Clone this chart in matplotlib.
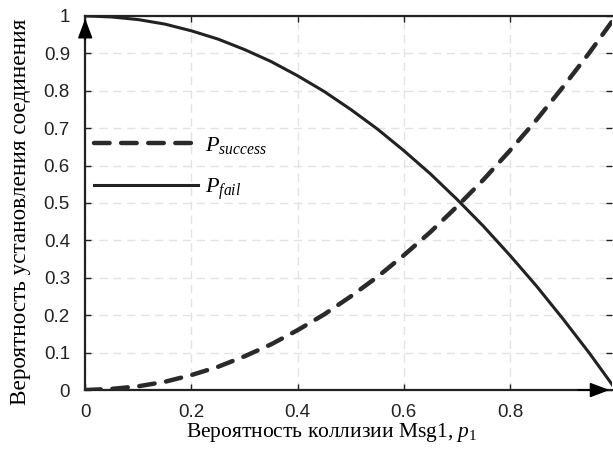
import matplotlib
matplotlib.use("Agg")
import matplotlib.pyplot as plt

# --- Data ---
p1 = [0.0, 0.05, 0.10, 0.15, 0.20, 0.25, 0.30, 0.35, 0.40, 0.45, 0.50,
      0.55, 0.60, 0.65, 0.70, 0.75, 0.80, 0.85, 0.90, 0.95, 1.0]
p_success = [0.0, 0.003, 0.01, 0.022, 0.04, 0.062, 0.09, 0.122, 0.16, 0.202, 0.25,
             0.302, 0.36, 0.422, 0.49, 0.562, 0.64, 0.722, 0.81, 0.902, 1.0]
p_fail = [1.0, 0.997, 0.99, 0.978, 0.96, 0.938, 0.91, 0.878, 0.84, 0.798, 0.75,
          0.698, 0.64, 0.578, 0.51, 0.438, 0.36, 0.278, 0.19, 0.098, 0.0]

x_ticks = [0, 0.2, 0.4, 0.6, 0.8]
y_ticks = [0, 0.1, 0.2, 0.3, 0.4, 0.5, 0.6, 0.7, 0.8, 0.9, 1.0]
x_tick_labels = ["0", "0.2", "0.4", "0.6", "0.8"]
y_tick_labels = ["0", "0.1", "0.2", "0.3", "0.4", "0.5", "0.6", "0.7", "0.8", "0.9", "1"]

x_label = "Вероятность коллизии Msg1, $p_1$"
y_label = "Вероятность установления соединения"
legend_labels = ["$P_{success}$", "$P_{fail}$"]

# --- Style ---
plt.rcParams["mathtext.fontset"] = "custom"
plt.rcParams["mathtext.rm"] = "Liberation Serif"
plt.rcParams["mathtext.it"] = "Liberation Serif:italic"
serif = "Liberation Serif"
sans = "Liberation Sans"
ink = "#222222"

fig = plt.figure(figsize=(6.13, 4.53), dpi=100)
ax = fig.add_axes([0.139, 0.139, 0.860, 0.826])

ax.plot(p1, p_success, color="#2a2a2a", linewidth=3.2, linestyle=(0, (3.5, 2.6)),
        dash_capstyle="round", label=legend_labels[0], zorder=3)
ax.plot(p1, p_fail, color=ink, linewidth=2.2, label=legend_labels[1], zorder=3)

ax.set_xlim(0, 0.993)
ax.set_ylim(0, 1)
ax.set_xticks(x_ticks)
ax.set_xticklabels(x_tick_labels, fontname=sans, fontsize=13.5)
ax.set_yticks(y_ticks)
ax.set_yticklabels(y_tick_labels, fontname=sans, fontsize=13.5)
ax.tick_params(direction="in", length=4, width=1, top=True, right=True, colors=ink)
ax.tick_params(axis="x", pad=10)
ax.tick_params(axis="y", pad=11)

ax.grid(True, color="#e3e3e3", linestyle=(0, (6, 4)), linewidth=1)
ax.set_axisbelow(True)

for side in ["left", "bottom", "top"]:
    ax.spines[side].set_linewidth(1.6)
    ax.spines[side].set_color(ink)
ax.spines["right"].set_visible(False)

# axis arrows
ax.annotate("", xy=(0, 1), xytext=(0, 0.93), xycoords="axes fraction",
            arrowprops=dict(arrowstyle="-|>,head_length=1.2,head_width=0.45",
                            color="black", lw=1.2), zorder=5)
ax.annotate("", xy=(1.0, 0), xytext=(0.93, 0), xycoords="axes fraction",
            arrowprops=dict(arrowstyle="-|>,head_length=1.2,head_width=0.45",
                            color="black", lw=1.2), zorder=5)

ax.set_xlabel(x_label, fontname=serif, fontsize=15.5)
ax.set_ylabel(y_label, fontname=serif, fontsize=16.7)
ax.xaxis.set_label_coords(0.467, -0.082)
ax.yaxis.set_label_coords(-0.102, 0.475)

leg = ax.legend(loc="upper left", bbox_to_anchor=(-0.022, 0.735), frameon=False,
                handlelength=4.7, handletextpad=0.3, labelspacing=0.9,
                prop={"family": serif, "size": 16})

plt.savefig("out.png", dpi=100)
plt.close(fig)
